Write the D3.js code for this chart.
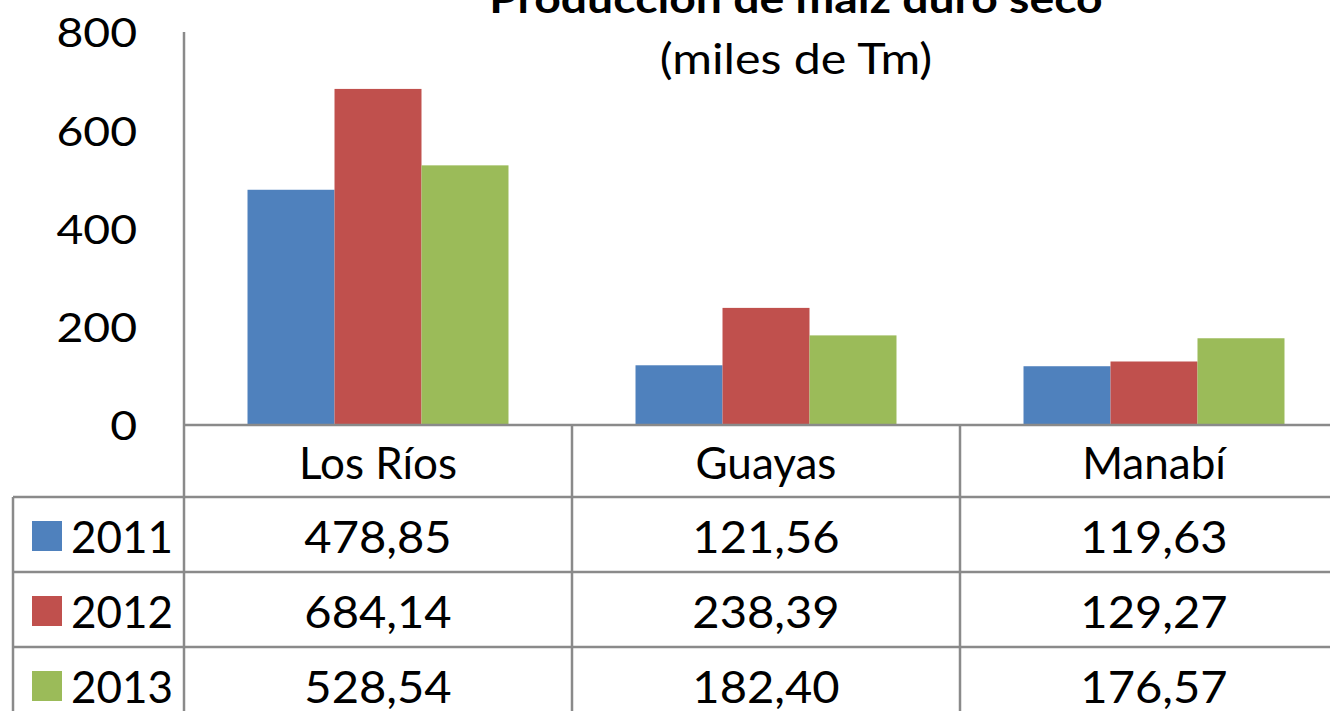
<!DOCTYPE html>
<html>
<head>
<meta charset="utf-8">
<script src="https://cdn.jsdelivr.net/npm/d3@7.9.0/dist/d3.min.js"></script>
<style>
  body { margin: 0; background: #fff; }
  svg { display: block; font-family: Lato, "Open Sans", sans-serif; }
</style>
</head>
<body>
<div id="chart"></div>
<script>
// values (miles de Tm)
const regions = ["Los Ríos", "Guayas", "Manabí"];
const years = ["2011", "2012", "2013"];
const values2011 = [478.85, 121.56, 119.63];
const values2012 = [684.14, 238.39, 129.27];
const values2013 = [528.54, 182.40, 176.57];
const yTicks = [0, 200, 400, 600, 800];
const colors = ["#4F81BD", "#C0504D", "#9BBB59"];

const series = [values2011, values2012, values2013];

const width = 1330, height = 711;
const plot = { left: 184, right: 1348, top: 32, bottom: 425 };
const rowH = 75;
const tableLeft = 13;

const fmt = d3.formatLocale({ decimal: ",", thousands: ".", grouping: [3], currency: ["", ""] }).format(".2f");

// the original font is a bit wider than Lato, stretch text horizontally
function stretch(sel, k) {
    sel.each(function () {
        const w = this.getComputedTextLength();
        d3.select(this)
            .attr('textLength', w * k)
            .attr('lengthAdjust', 'spacingAndGlyphs');
    });
}

const svg = d3.select('#chart')
    .append('svg')
    .attr('width', width)
    .attr('height', height);

const xScale = d3.scaleBand()
    .domain(regions)
    .range([plot.left, plot.right]);

const xInner = d3.scaleBand()
    .domain(years)
    .range([0, xScale.bandwidth()])
    .paddingOuter(0.73)
    .paddingInner(0);

const yScale = d3.scaleLinear()
    .domain([0, 800])
    .range([plot.bottom, plot.top]);

// bars
const groups = svg.append('g')
    .selectAll('g')
    .data(regions)
    .join('g')
    .attr('transform', d => `translate(${xScale(d)},0)`);

groups.selectAll('rect')
    .data((d, i) => years.map((y, j) => ({ year: y, value: series[j][i], c: colors[j] })))
    .join('rect')
    .attr('x', d => xInner(d.year))
    .attr('width', xInner.bandwidth())
    .attr('y', d => yScale(d.value))
    .attr('height', d => yScale(0) - yScale(d.value))
    .attr('fill', d => d.c);

// y axis
const yAxis = d3.axisLeft(yScale).tickValues(yTicks).tickSize(0).tickPadding(47);
const yg = svg.append('g')
    .attr('transform', `translate(${plot.left},0)`)
    .call(yAxis);
yg.select('.domain').remove();
yg.selectAll('text')
    .attr('font-size', 41)
    .attr('font-family', 'Lato')
    .attr('fill', '#000')
    .attr('dy', '0.36em')
    .call(stretch, 1.13);

const lineColor = '#8a8a8a';
const lw = 2.5;
const lines = svg.append('g').attr('stroke', lineColor).attr('stroke-width', lw);

// vertical axis line
lines.append('line')
    .attr('x1', plot.left).attr('x2', plot.left)
    .attr('y1', plot.top).attr('y2', height);

// category axis line and table horizontal rules
[0, 1, 2, 3].forEach(r => {
    lines.append('line')
        .attr('x1', r === 0 ? plot.left : tableLeft)
        .attr('x2', width)
        .attr('y1', plot.bottom + r * rowH - (r ? 3 : 0))
        .attr('y2', plot.bottom + r * rowH - (r ? 3 : 0));
});
// table left border
lines.append('line')
    .attr('x1', tableLeft).attr('x2', tableLeft)
    .attr('y1', plot.bottom + rowH - 3).attr('y2', height);
// category separators
regions.slice(1).forEach(r => {
    lines.append('line')
        .attr('x1', xScale(r)).attr('x2', xScale(r))
        .attr('y1', plot.bottom).attr('y2', height);
});

// category labels
svg.append('g')
    .selectAll('text')
    .data(regions)
    .join('text')
    .attr('x', d => xScale(d) + xScale.bandwidth() / 2)
    .attr('y', plot.bottom + 54)
    .attr('text-anchor', 'middle')
    .attr('font-size', 44)
    .text(d => d);

// table values
years.forEach((y, j) => {
    const baseY = plot.bottom + rowH * (j + 1) + 53;
    svg.append('rect')
        .attr('x', 32).attr('y', baseY - 32)
        .attr('width', 30).attr('height', 30)
        .attr('fill', colors[j]);
    svg.append('text')
        .attr('x', 71).attr('y', baseY)
        .attr('font-size', 44)
        .text(y);
    svg.append('g')
        .selectAll('text')
        .data(series[j])
        .join('text')
        .attr('x', (d, i) => xScale(regions[i]) + xScale.bandwidth() / 2)
        .attr('y', baseY)
        .attr('text-anchor', 'middle')
        .attr('font-size', 44)
        .text(d => fmt(d))
        .call(stretch, 1.07);
});

// title (its top is cut by the frame in the original)
svg.append('text')
    .attr('x', 796).attr('y', 13)
    .attr('text-anchor', 'middle')
    .attr('font-size', 41)
    .attr('font-weight', 'bold')
    .text('Producción de maíz duro seco')
    .call(stretch, 1.13);
svg.append('text')
    .attr('x', 796).attr('y', 74)
    .attr('text-anchor', 'middle')
    .attr('font-size', 42)
    .text('(miles de Tm)')
    .call(stretch, 1.15);
</script>
</body>
</html>
